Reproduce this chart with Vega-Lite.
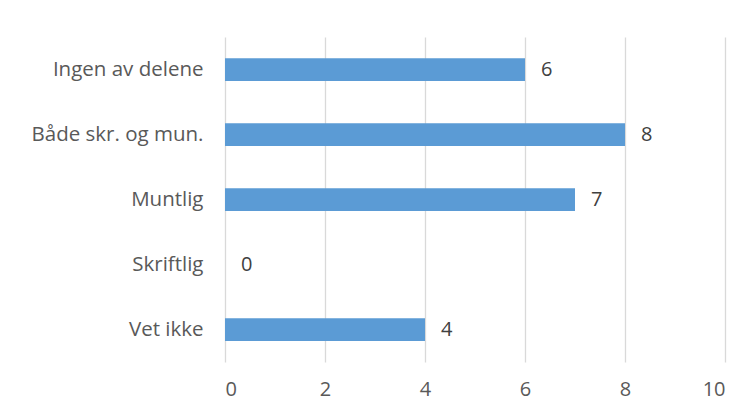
{
  "$schema": "https://vega.github.io/schema/vega-lite/v6.json",
  "autosize": {"type": "none"},
  "width": 500,
  "height": 325,
  "padding": {"left": 225, "top": 37, "right": 30, "bottom": 54},
  "background": "white",
  "config": {"view": {"stroke": null}, "font": "Open Sans"},
  "data": {"values": [
    {"category": "Ingen av delene", "value": 6},
    {"category": "Både skr. og mun.", "value": 8},
    {"category": "Muntlig", "value": 7},
    {"category": "Skriftlig", "value": 0},
    {"category": "Vet ikke", "value": 4}
  ]},
  "encoding": {
    "y": {"field": "category", "type": "nominal", "sort": null,
      "scale": {"paddingInner": 0.65, "paddingOuter": 0.325},
      "axis": {"title": null, "domain": false, "ticks": false, "labelFontSize": 20.5, "labelColor": "#595959", "labelPadding": 22, "labelFont": "Open Sans"}},
    "x": {"field": "value", "type": "quantitative",
      "scale": {"domain": [0, 10]},
      "axis": {"title": null, "values": [0,2,4,6,8,10], "domain": false, "ticks": false, "grid": true, "gridColor": "#D9D9D9", "gridWidth": 1.3, "labelFontSize": 20, "labelColor": "#595959", "labelPadding": 17, "labelFont": "Open Sans"}}
  },
  "layer": [
    {"mark": {"type": "bar", "color": "#5B9BD5"}},
    {"mark": {"type": "text", "align": "left", "dx": 16, "fontSize": 20, "color": "#404040", "font": "Open Sans"},
     "encoding": {"text": {"field": "value", "type": "quantitative"}}}
  ]
}
